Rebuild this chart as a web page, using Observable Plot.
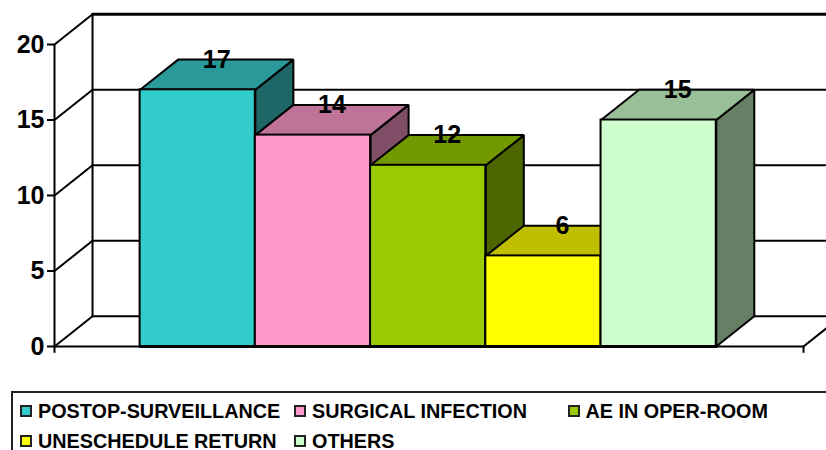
<!DOCTYPE html>
<html><head><meta charset="utf-8">
<script src="https://cdn.jsdelivr.net/npm/d3@7"></script>
<script src="https://cdn.jsdelivr.net/npm/@observablehq/plot@0.6"></script>
<style>
html,body{margin:0;padding:0;background:#fff;overflow:hidden;width:826px;height:450px}
svg{display:block}
#legend{position:relative;box-sizing:border-box;margin-left:11px;margin-top:6px;width:830px;height:70px;border:2px solid #222;border-right:none;
 font:bold 19.8px "Liberation Sans",Arial,sans-serif;color:#000;display:grid;grid-template-columns:274px 273.5px 260px;grid-auto-rows:30px;padding:3px 0 0 7px;align-items:center}
#legend .it{display:flex;align-items:center;white-space:nowrap}
#legend i{display:inline-block;box-sizing:border-box;width:12px;height:12px;border:2px solid #222;margin-right:6px;flex:none}
</style></head><body>
<div id="chart"></div>
<div id="legend"></div>
<script>
const categories = ["POSTOP-SURVEILLANCE","SURGICAL INFECTION","AE IN OPER-ROOM","UNESCHEDULE RETURN","OTHERS"];
const values = [17,14,12,6,15];
const frontColors = ["#33CCCC","#FF99CC","#99CC00","#FFFF00","#CCFFCC"];
const topColors = ["#299999","#BF7399","#739900","#BFBF00","#99BF99"];
const sideColors = ["#1F6666","#804D66","#4D6600","#808000","#668066"];
const yTicks = [0,5,10,15,20];

// chart units: one bar = 1 on x, values on y; depth is a shift on both
const xSpan = 6.5, firstBar = 0.743, depthX = 0.33, depthY = 2;

const link = (pts, w=2) => Plot.line(pts, {x:"x", y:"y", stroke:"#000", strokeWidth:w, curve:"linear"});
const poly = (pts, fill) => Plot.line([...pts, pts[0]], {x:"x", y:"y", fill, stroke:"#000", strokeWidth:2, strokeLinejoin:"miter", curve:"linear"});

const marks = [];
// walls
yTicks.forEach(v => {
  marks.push(link([{x:0,y:v},{x:depthX,y:v+depthY}]));
  marks.push(link([{x:depthX,y:v+depthY},{x:xSpan+depthX,y:v+depthY}], v===20?3:2));
});
marks.push(link([{x:depthX,y:depthY},{x:depthX,y:20+depthY}]));
marks.push(link([{x:xSpan,y:0},{x:xSpan+depthX,y:depthY}]));
// end ticks beneath the floor
marks.push(Plot.ruleX([0,xSpan],{y1:0, y2:-0.45, stroke:"#000", strokeWidth:2}));
// bars
values.forEach((v,i) => {
  const a = firstBar+i, b = a+1;
  marks.push(poly([{x:b,y:0},{x:b+depthX,y:depthY},{x:b+depthX,y:v+depthY},{x:b,y:v}], sideColors[i]));
  marks.push(poly([{x:a,y:v},{x:a+depthX,y:v+depthY},{x:b+depthX,y:v+depthY},{x:b,y:v}], topColors[i]));
  marks.push(Plot.rect([v],{x1:a, x2:b, y1:0, y2:d=>d, fill:frontColors[i], stroke:"#000", strokeWidth:2}));
});
marks.push(link([{x:0,y:0},{x:firstBar,y:0}]));
marks.push(link([{x:firstBar,y:0},{x:firstBar+values.length,y:0}],3));
marks.push(link([{x:firstBar+values.length,y:0},{x:xSpan,y:0}]));
// value labels
marks.push(Plot.text(values,{
  x:(d,i)=>firstBar+i+0.5+depthX/2, y:d=>d+depthY, text:d=>String(d),
  fontSize:25, fontWeight:"bold", fill:"#000"
}));
// y axis
marks.push(Plot.axisY(yTicks,{tickSize:7, tickPadding:3, fontSize:25, fontWeight:"bold", tickFormat:d=>String(d), label:null, stroke:"#000", strokeWidth:2, color:"#000"}));
marks.push(Plot.ruleX([0],{y1:0,y2:20,stroke:"#000",strokeWidth:2}));

const plot = Plot.plot({
  width:826, height:385,
  marginLeft:54, marginRight:23, marginTop:44, marginBottom:39,
  style:{fontFamily:'"Liberation Sans",Arial,sans-serif',background:"#fff",color:"#000"},
  x:{domain:[0,xSpan], axis:null},
  y:{domain:[0,20], axis:null},
  marks
});
document.getElementById("chart").append(plot);

const lg = document.getElementById("legend");
categories.forEach((c,i)=>{
  const it=document.createElement("div"); it.className="it";
  const sw=document.createElement("i"); sw.style.background=frontColors[i];
  it.append(sw, document.createTextNode(c)); lg.append(it);
});
</script>
</body></html>
